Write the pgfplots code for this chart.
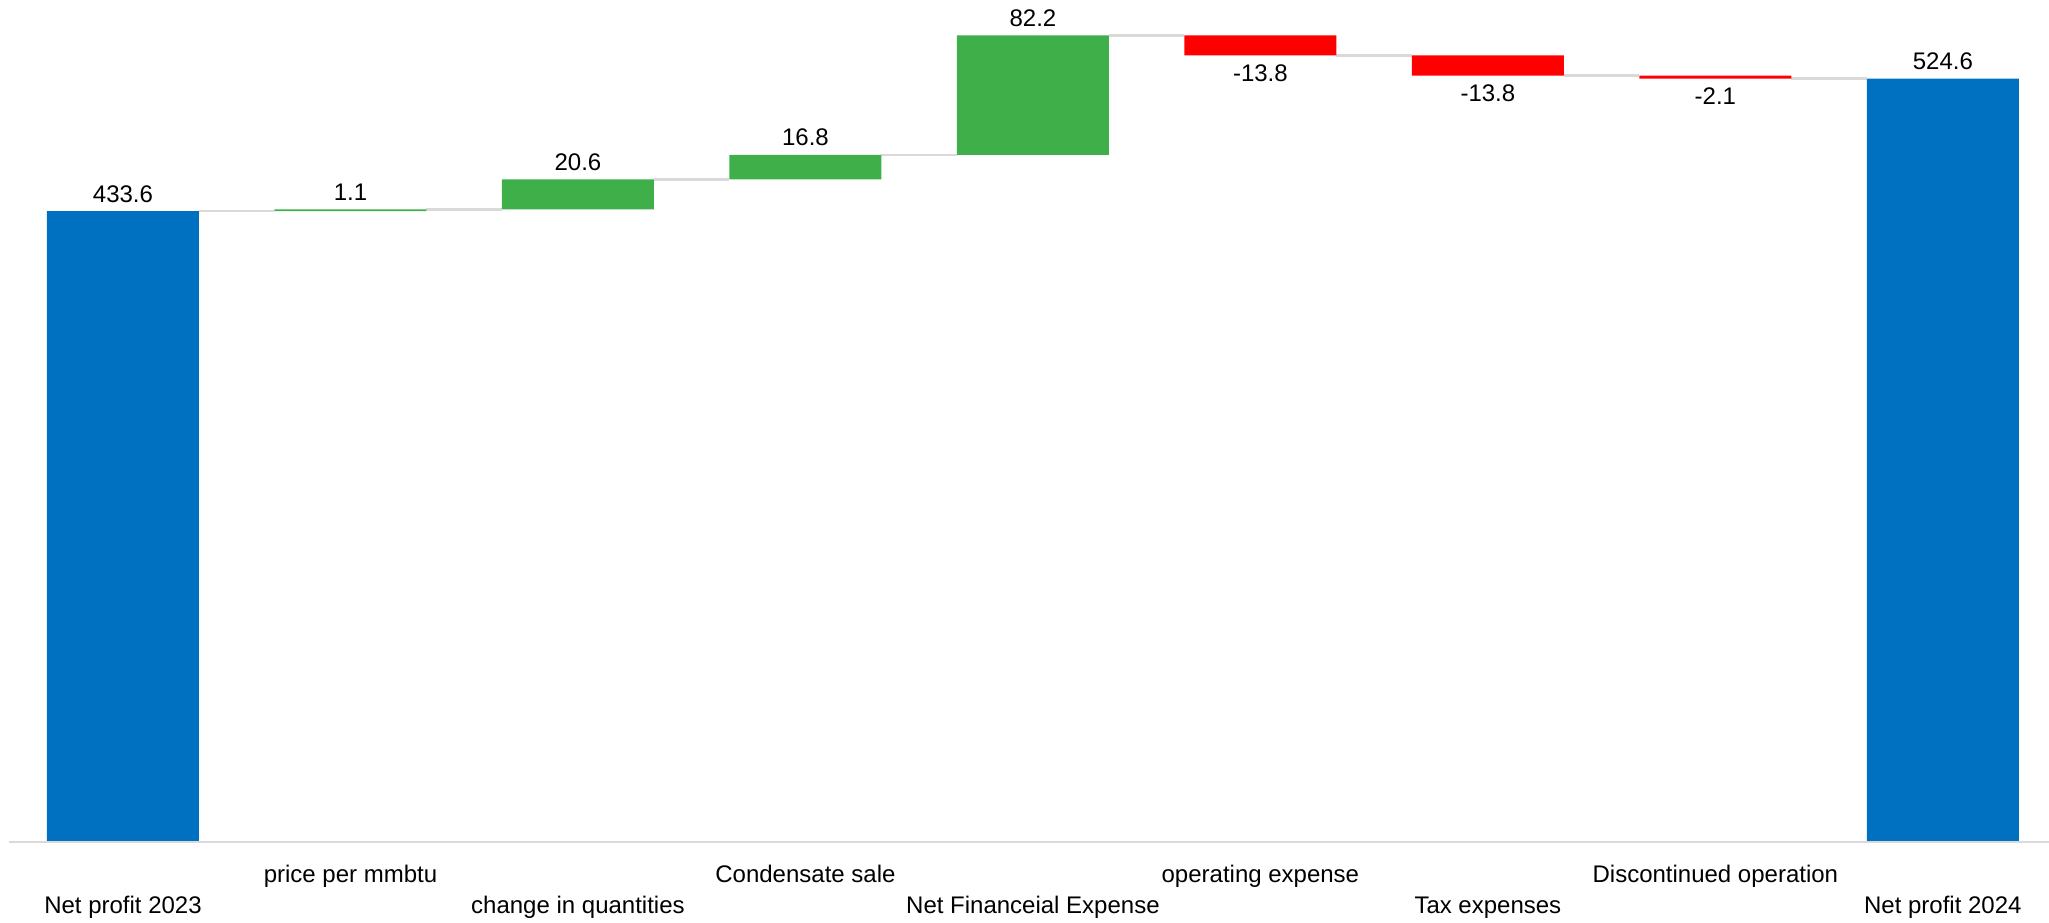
\documentclass[border=0pt]{standalone}
\usepackage{pgfplots}
\pgfplotsset{compat=1.18}
\usepackage{pgfplotstable}
\usepackage{fontspec}
\setmainfont{Liberation Sans}

\definecolor{wfblue}{HTML}{0070C0}
\definecolor{wfgreen}{HTML}{3EAF49}
\definecolor{wfred}{HTML}{FF0000}
\definecolor{wfgrey}{HTML}{D9D9D9}

% bar segments: invisible base plus visible change
\pgfplotstableread{
x base  blue  green red
0 0     433.6 0     0
1 433.6 0     1.1   0
2 434.7 0     20.6  0
3 455.3 0     16.8  0
4 472.1 0     82.2  0
5 540.5 0     0     13.8
6 526.7 0     0     13.8
7 524.6 0     0     2.1
8 0     524.6 0     0
}\bars

% connectors between neighbouring bar edges
\pgfplotstableread{
x     y
0.334 433.6
0.666 433.6
nan   nan
1.334 434.7
1.666 434.7
nan   nan
2.334 455.3
2.666 455.3
nan   nan
3.334 472.1
3.666 472.1
nan   nan
4.334 554.3
4.666 554.3
nan   nan
5.334 540.5
5.666 540.5
nan   nan
6.334 526.7
6.666 526.7
nan   nan
7.334 524.6
7.666 524.6
}\links

\pgfplotstableread{
x y     lab
0 433.6 433.6
1 434.7 1.1
2 455.3 20.6
3 472.1 16.8
4 554.3 82.2
8 524.6 524.6
}\uplabels

\pgfplotstableread{
x y     lab
5 540.5 -13.8
6 526.7 -13.8
7 524.6 -2.1
}\downlabels

\pgfplotstableread[col sep=comma]{
x,lab
1,price per mmbtu
3,Condensate sale
5,operating expense
7,Discontinued operation
}\rowone

\pgfplotstableread[col sep=comma]{
x,lab
0,Net profit 2023
2,change in quantities
4,Net Financeial Expense
6,Tax expenses
8,Net profit 2024
}\rowtwo

\pgfplotsset{
  wf/.style={
    scale only axis, width=1023.75pt, height=421pt,
    xmin=-0.5, xmax=8.5, ymin=0, ymax=578.6,
    at={(0,0)}, anchor=south west, clip=false,
  },
}

\begin{document}
\begin{tikzpicture}
\path[use as bounding box] (-4.625pt,-40pt) rectangle (1019.875pt,421pt);

% connectors and labels
\begin{axis}[wf, hide axis,
  nodes near coords, point meta=explicit symbolic]
\addplot[wfgrey, line width=1.3pt, unbounded coords=jump, no marks,
  nodes near coords={}] table[x=x, y=y] {\links};
\addplot[only marks, mark=none,
  nodes near coords style={anchor=base, yshift=4.5pt, font=\fontsize{12}{14}\selectfont}]
  table[x=x, y=y, meta=lab] {\uplabels};
\addplot[only marks, mark=none,
  nodes near coords style={anchor=base, yshift=-13pt, font=\fontsize{12}{14}\selectfont}]
  table[x=x, y=y, meta=lab] {\downlabels};
\addplot[only marks, mark=none,
  nodes near coords style={anchor=base, yshift=-20.3pt, font=\fontsize{12}{14}\selectfont}]
  table[x=x, y expr=0, meta=lab] {\rowone};
\addplot[only marks, mark=none,
  nodes near coords style={anchor=base, yshift=-35.8pt, font=\fontsize{12}{14}\selectfont}]
  table[x=x, y expr=0, meta=lab] {\rowtwo};
\end{axis}

% waterfall bars
\begin{axis}[wf, ybar stacked, bar width=76pt,
  axis x line=bottom, axis y line=none, axis on top,
  axis line style={wfgrey, line width=1.3pt, -},
  xtick=\empty, ytick=\empty]
\addplot[draw=none, fill=none] table[x=x, y=base] {\bars};
\addplot[draw=none, fill=wfblue] table[x=x, y=blue] {\bars};
\addplot[draw=none, fill=wfgreen] table[x=x, y=green] {\bars};
\addplot[draw=none, fill=wfred] table[x=x, y=red] {\bars};
\end{axis}
\end{tikzpicture}
\end{document}
